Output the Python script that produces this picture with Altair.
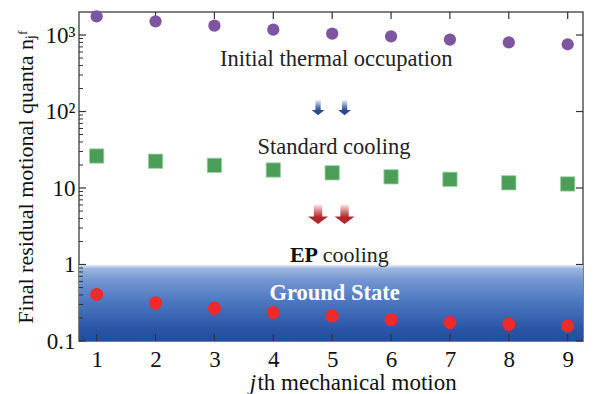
import altair as alt
import pandas as pd

# ---- data ----
j = [1, 2, 3, 4, 5, 6, 7, 8, 9]
initial = [1755, 1510, 1327, 1176, 1043, 962, 871, 803, 757]
standard = [26.2, 22.4, 19.8, 17.2, 15.8, 14.0, 13.0, 11.7, 11.3]
ep = [0.406, 0.316, 0.267, 0.236, 0.212, 0.190, 0.175, 0.165, 0.157]

y_major = [0.1, 1, 10, 100, 1000]
y_minor = [0.2, 0.3, 0.4, 0.5, 0.6, 0.7, 0.8, 0.9,
           2, 3, 4, 5, 6, 7, 8, 9,
           20, 30, 40, 50, 60, 70, 80, 90,
           200, 300, 400, 500, 600, 700, 800, 900]

W, H = 504, 329
SERIF = "Liberation Serif"

xs = alt.Scale(domain=[0.7, 9.26], nice=False, zero=False)
ys = alt.Scale(type="log", domain=[0.1, 2000], nice=False)

xaxis = alt.Axis(values=j, ticks=False, domain=False, grid=False,
                 labelFont=SERIF, labelFontSize=23, labelColor="#111",
                 labelPadding=7, title=None)
yaxis = alt.Axis(values=y_major, ticks=False, domain=False, grid=False,
                 labelFont=SERIF, labelFontSize=23, labelColor="#111",
                 labelPadding=4,
                 labelExpr="datum.value >= 999 ? '10\u00b3' : datum.value >= 99 ? '10\u00b2' : datum.value >= 9 ? '10' : datum.value >= 0.9 ? '1' : '0.1'",
                 title="Final residual motional quanta n\u2c7c\u1da0",
                 titleFont=SERIF, titleFontSize=22, titleFontWeight="normal",
                 titleColor="#111", titleX=-42)

X = lambda f: alt.X(f, scale=xs, axis=xaxis)
Y = lambda f: alt.Y(f, scale=ys, axis=yaxis)

df = pd.DataFrame({"j": j, "initial": initial, "standard": standard, "ep": ep})

# gradient band (ground state region)
band_df = pd.DataFrame({"top": [1], "bottom": [0.1]})
band = alt.Chart(band_df).mark_rect(
    fill=alt.Gradient(
        gradient="linear", x1=0, x2=0, y1=0, y2=1,
        stops=[alt.GradientStop(color="#f4f7fc", offset=0),
               alt.GradientStop(color="#9fb7e0", offset=0.05),
               alt.GradientStop(color="#7396d0", offset=0.2),
               alt.GradientStop(color="#4a76bf", offset=0.5),
               alt.GradientStop(color="#2a55a6", offset=0.85),
               alt.GradientStop(color="#234e9f", offset=1)])
).encode(x=alt.value(0), x2=alt.value(W), y=Y("top:Q"), y2="bottom:Q")

# ticks (pointing inward, drawn as rules)
tmaj = pd.DataFrame({"t": y_major})
tmin = pd.DataFrame({"t": y_minor})
tx = pd.DataFrame({"j": j})
tick_col = "#333"
left_major = alt.Chart(tmaj).mark_rule(color=tick_col, strokeWidth=1.2).encode(
    y=Y("t:Q"), x=alt.value(0), x2=alt.value(7))
left_minor = alt.Chart(tmin).mark_rule(color=tick_col, strokeWidth=1).encode(
    y=Y("t:Q"), x=alt.value(0), x2=alt.value(4))
right_major = alt.Chart(tmaj).mark_rule(color=tick_col, strokeWidth=1.2).encode(
    y=Y("t:Q"), x=alt.value(W), x2=alt.value(W - 7))
top_ticks = alt.Chart(tx).mark_rule(color=tick_col, strokeWidth=1.2).encode(
    x=X("j:Q"), y=alt.value(0), y2=alt.value(7))
bottom_ticks = alt.Chart(tx).mark_rule(color=tick_col, strokeWidth=1.2).encode(
    x=X("j:Q"), y=alt.value(H), y2=alt.value(H - 7))

purple = alt.Chart(df).mark_circle(color="#7e55a0", opacity=1, size=150).encode(
    x=X("j:Q"), y=Y("initial:Q"))
green = alt.Chart(df).mark_point(shape="square", filled=True, color="#4b9e58",
                                 opacity=1, size=205, stroke="#9fd0a6",
                                 strokeWidth=0.8).encode(
    x=X("j:Q"), y=Y("standard:Q"))
red = alt.Chart(df).mark_circle(color="#ee2a2a", opacity=1, size=170).encode(
    x=X("j:Q"), y=Y("ep:Q"))

# arrows
arrow_x = [4.76, 5.21]
blue_arrow_y = [114, 114]
red_arrow_y = [4.5, 4.5]
arrows_blue_df = pd.DataFrame({"x": arrow_x, "y": blue_arrow_y})
arrows_red_df = pd.DataFrame({"x": arrow_x, "y": red_arrow_y})
blue_path = "M-0.33,-1 L0.33,-1 L0.33,0.35 L0.8,0.35 L0,1 L-0.8,0.35 L-0.33,0.35 Z"
red_path = "M-0.42,-1 L0.42,-1 L0.42,0.2 L1,0.2 L0,0.95 L-1,0.2 L-0.42,0.2 Z"
blue_arrows = alt.Chart(arrows_blue_df).mark_point(
    shape=blue_path, filled=True, size=256, opacity=1, strokeWidth=0,
    fill=alt.Gradient(gradient="linear", x1=0, x2=0, y1=0, y2=1,
                      stops=[alt.GradientStop(color="#ffffff", offset=0),
                             alt.GradientStop(color="#6a82bd", offset=0.45),
                             alt.GradientStop(color="#2b4892", offset=0.7),
                             alt.GradientStop(color="#2b4892", offset=1)])
).encode(x=X("x:Q"), y=Y("y:Q"))
red_arrows = alt.Chart(arrows_red_df).mark_point(
    shape=red_path, filled=True, size=400, opacity=1, strokeWidth=0,
    fill=alt.Gradient(gradient="linear", x1=0, x2=0, y1=0, y2=1,
                      stops=[alt.GradientStop(color="#fbe9e9", offset=0),
                             alt.GradientStop(color="#cf6a6a", offset=0.4),
                             alt.GradientStop(color="#b0262b", offset=0.65),
                             alt.GradientStop(color="#b0262b", offset=1)])
).encode(x=X("x:Q"), y=Y("y:Q"))

# annotations
lab_df = pd.DataFrame({
    "x": [5.07, 5.03],
    "y": [482, 34],
    "text": ["Initial thermal occupation", "Standard cooling"],
})
labels = alt.Chart(lab_df).mark_text(font=SERIF, fontSize=22.5, color="#222",
                                     baseline="middle").encode(
    x=X("x:Q"), y=Y("y:Q"), text="text:N")

ep_bold = alt.Chart(pd.DataFrame({"x": [4.76], "y": [1.34], "text": ["EP"]})).mark_text(
    font=SERIF, fontSize=22, fontWeight="bold", color="#111", align="right",
    baseline="middle").encode(x=X("x:Q"), y=Y("y:Q"), text="text:N")
ep_norm = alt.Chart(pd.DataFrame({"x": [4.84], "y": [1.34], "text": ["cooling"]})).mark_text(
    font=SERIF, fontSize=22, color="#222", align="left",
    baseline="middle").encode(x=X("x:Q"), y=Y("y:Q"), text="text:N")

ground = alt.Chart(pd.DataFrame({"x": [5.04], "y": [0.418], "text": ["Ground State"]})).mark_text(
    font=SERIF, fontSize=22.5, fontWeight="bold", color="#ffffff",
    baseline="middle").encode(x=X("x:Q"), y=Y("y:Q"), text="text:N")

# x-axis title with italic j
xt_j = alt.Chart(pd.DataFrame({"x": [3.71], "text": ["j"]})).mark_text(
    font=SERIF, fontSize=23, fontStyle="italic", color="#111", align="right",
    baseline="middle").encode(x=X("x:Q"), y=alt.value(H + 42), text="text:N")
xt_rest = alt.Chart(pd.DataFrame({"x": [3.73], "text": ["th mechanical motion"]})).mark_text(
    font=SERIF, fontSize=23, color="#111", align="left",
    baseline="middle").encode(x=X("x:Q"), y=alt.value(H + 42), text="text:N")

chart = alt.layer(
    band, left_major, left_minor, right_major, top_ticks, bottom_ticks,
    purple, green, red, blue_arrows, red_arrows,
    labels, ep_bold, ep_norm, ground, xt_j, xt_rest
).properties(
    width=W, height=H,
    padding={"left": 6, "top": 2, "right": 5, "bottom": 2},
    background="white",
).configure_view(stroke="#555", strokeWidth=1.5)

chart.save("out.html", embed_options={"renderer": "svg", "actions": False})
